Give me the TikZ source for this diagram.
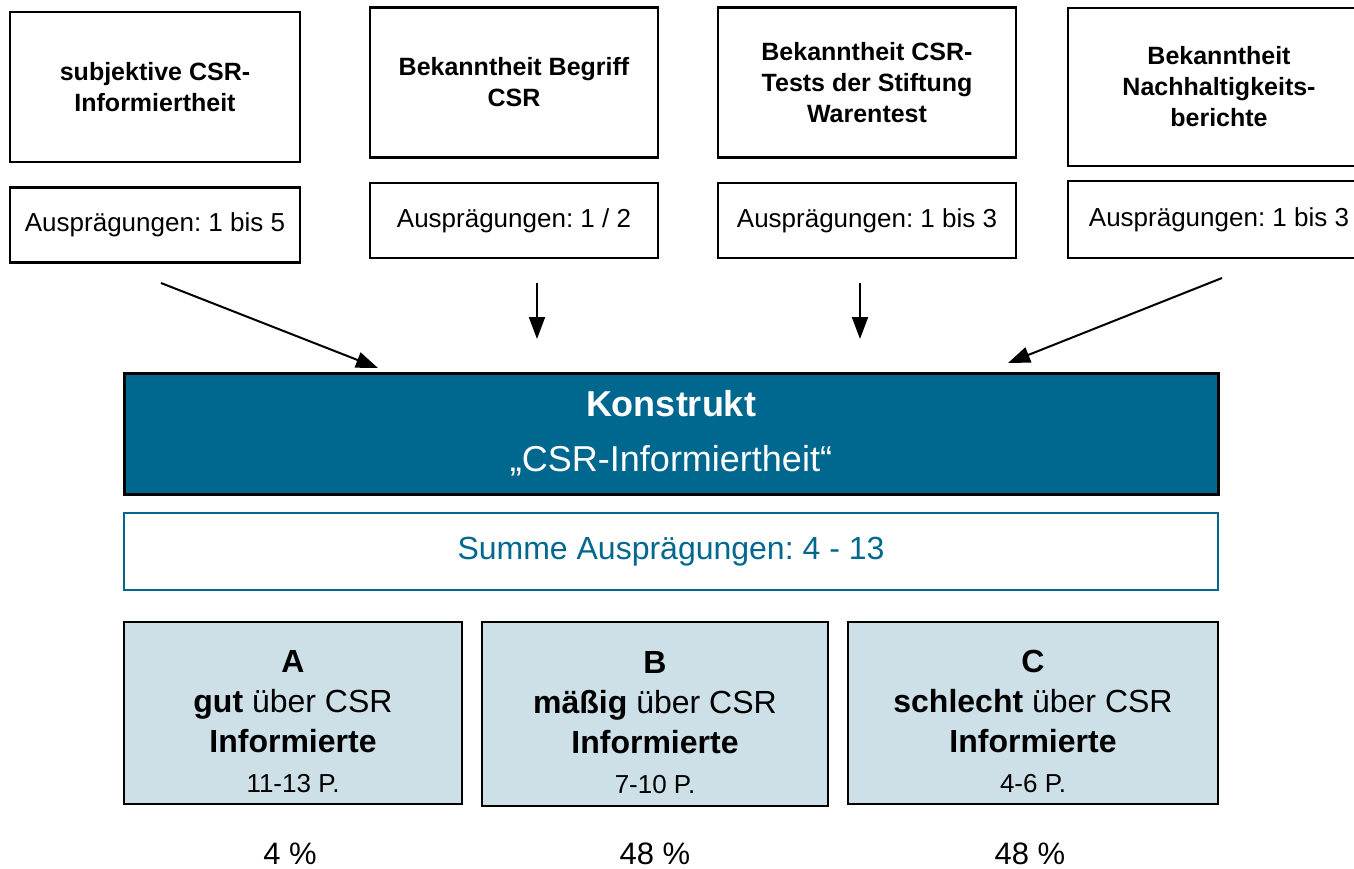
\documentclass[tikz,border=0pt]{standalone}
\usepackage{fontspec}
\setmainfont{Liberation Sans}
\usetikzlibrary{arrows.meta}
\definecolor{konstruktblau}{HTML}{00678F}
\definecolor{typblau}{HTML}{CDE0E8}
\frenchspacing

\begin{document}
\begin{tikzpicture}
  [x=1pt,y=-1pt,every node/.style={draw,line width=2.5pt,align=center,inner sep=0pt,outer sep=0pt}]
  \tikzstyle{merkmal} = [minimum height=150pt,font=\bfseries\fontsize{25}{31}\selectfont]
  \tikzstyle{auspr} = [minimum height=75pt,font=\fontsize{26}{31}\selectfont]
  \tikzstyle{typ} = [fill=typblau,minimum height=182pt,font=\fontsize{32}{40}\selectfont]
  \tikzstyle{prozent} = [draw=none,anchor=base,font=\fontsize{31}{38}\selectfont]
  \tikzstyle{pfeil} = [draw,line width=2pt,-{Triangle[length=22pt,width=16pt]}]
  \useasboundingbox (0,0) rectangle (1354,869);
  % Merkmale
  \node[merkmal,minimum width=290pt] (m1) at (155,87)  {subjektive CSR-\\Informiertheit};
  \node[merkmal,minimum width=288pt] (m2) at (514,82.5) {Bekanntheit Begriff\\CSR};
  \node[merkmal,minimum width=298pt] (m3) at (867,82.5) {Bekanntheit CSR-\\Tests der Stiftung\\Warentest};
  \node[merkmal,minimum width=302pt,minimum height=158pt] (m4) at (1219,87) {Bekanntheit\\Nachhaltigkeits-\\berichte};
  \node[auspr,minimum width=290pt] (a1) at (155,225)   {Ausprägungen: 1 bis 5};
  \node[auspr,minimum width=288pt] (a2) at (514,220.5) {Ausprägungen: 1 / 2};
  \node[auspr,minimum width=298pt] (a3) at (867,220.5) {Ausprägungen: 1 bis 3};
  \node[auspr,minimum width=302pt,minimum height=77pt] (a4) at (1219,219.5) {Ausprägungen: 1 bis 3};
  % Konstrukt
  \node[fill=konstruktblau,text=white,line width=3pt,minimum width=1094pt,minimum height=121pt,
        font=\fontsize{36}{55}\selectfont] (k) at (671,433.5) {{\bfseries Konstrukt}\\„CSR-Informiertheit“};
  \node[draw=konstruktblau,text=konstruktblau,line width=2.5pt,minimum width=1094pt,minimum height=77pt,
        font=\fontsize{32}{38}\selectfont] (s) at (671,551.5) {Summe Ausprägungen: 4 - 13};
  % Typen
  \node[typ,minimum width=338pt] (tA) at (293,713) {\rule{0pt}{40pt}{\bfseries A}\\{\bfseries gut} über CSR\\{\bfseries Informierte}\\{\fontsize{26}{42}\selectfont 11-13 P.}};
  \node[typ,minimum width=346pt,minimum height=184pt] (tB) at (655,714) {\rule{0pt}{40pt}{\bfseries B}\\{\bfseries mäßig} über CSR\\{\bfseries Informierte}\\{\fontsize{26}{42}\selectfont 7-10 P.}};
  \node[typ,minimum width=370pt] (tC) at (1033,713) {\rule{0pt}{40pt}{\bfseries C}\\{\bfseries schlecht} über CSR\\{\bfseries Informierte}\\{\fontsize{26}{42}\selectfont 4-6 P.}};
  \node[prozent] (pA) at (290,864)  {4 \%};
  \node[prozent] (pB) at (655,864)  {48 \%};
  \node[prozent] (pC) at (1030,864) {48 \%};
  % Pfeile
  \coordinate (s1) at (161,283);  \coordinate (e1) at (378,368);
  \coordinate (s2) at (537,283);  \coordinate (e2) at (537,339);
  \coordinate (s3) at (860,283);  \coordinate (e3) at (860,339);
  \coordinate (s4) at (1222,278); \coordinate (e4) at (1008,363);
  \foreach \von/\nach in {s1/e1,s2/e2,s3/e3,s4/e4}
    \draw[pfeil] (\von) -- (\nach);
\end{tikzpicture}
\end{document}
